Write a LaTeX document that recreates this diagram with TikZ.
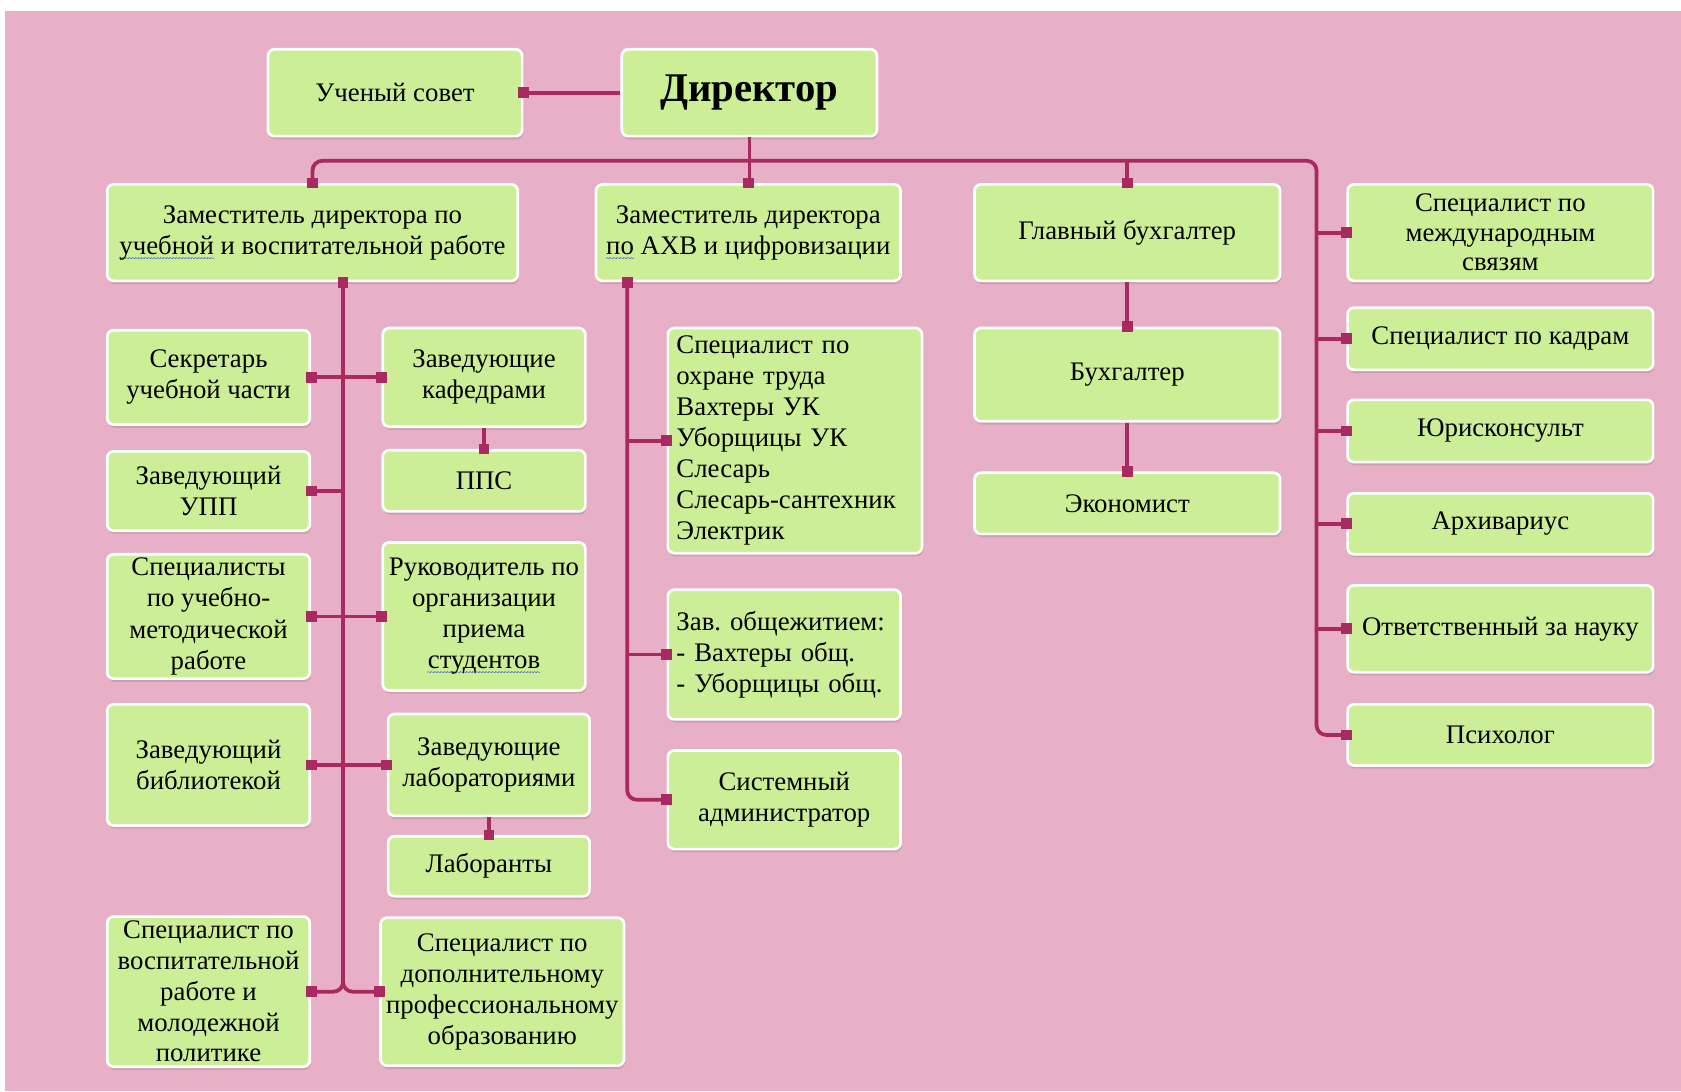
\documentclass[tikz,border=0pt]{standalone}
\usepackage{fontspec}
\setmainfont{Liberation Serif}
\usetikzlibrary{shadows}
\definecolor{bgpink}{RGB}{232,176,199}
\definecolor{boxgreen}{RGB}{204,238,150}
\definecolor{linemag}{RGB}{168,42,96}
\definecolor{spellblue}{RGB}{40,60,230}
\newcommand\spellwave[1]{\setbox0=\hbox{#1}\rlap{\raisebox{-6.5pt}[0pt][0pt]{\textcolor{spellblue}{\hbox to \wd0{\fontsize{8}{8}\selectfont\xleaders\hbox{\kern-0.7pt\textasciitilde\kern-0.7pt}\hfil}}}}\box0\relax}
\newcommand\mk[1]{\fill[linemag] ([xshift=-5pt,yshift=-5pt]#1) rectangle ([xshift=5pt,yshift=5pt]#1);}
\tikzset{
 box/.style={draw=white, line width=2.5pt, fill=boxgreen, rounded corners=6pt,
   inner sep=1pt, align=center, font=\fontsize{25}{29}\selectfont\frenchspacing,
   drop shadow={shadow xshift=1pt, shadow yshift=-3pt, opacity=0.22, fill=black!60}},
 lbox/.style={box, align=left, inner xsep=8pt},
 conn/.style={draw=linemag, line width=3.5pt},
}
\begin{document}
\begin{tikzpicture}[x=1pt,y=-1pt]
\useasboundingbox (0,0) rectangle (1568,1018);
\fill[white] (0,0) rectangle (1568,1018);
\fill[bgpink] (4.7,10) rectangle (1568,1018);

% top
\node[box, minimum width=237pt, minimum height=81pt] (uc) at (368.5,86.5) {Ученый совет};
\node[box, minimum width=238pt, minimum height=81pt, font=\fontsize{38}{44}\selectfont\bfseries] (dir) at (699,86.5) {Директор};

% second row
\node[box, minimum width=383pt, minimum height=90pt] (zu) at (291.5,217) {Заместитель директора по\\ \spellwave{учебной} и воспитательной работе};
\node[box, minimum width=284pt, minimum height=90pt] (zahv) at (698,217) {Заместитель директора\\ \spellwave{по} АХВ и цифровизации};
\node[box, minimum width=285pt, minimum height=90pt] (gb) at (1051.5,217) {Главный бухгалтер};
\node[box, minimum width=285pt, minimum height=90pt, font=\fontsize{25}{27.5}\selectfont] (smc) at (1399.5,217) {Специалист по\\ международным\\ связям};

% right column
\node[box, minimum width=285pt, minimum height=58pt] (sk) at (1399.5,316) {Специалист по кадрам};
\node[box, minimum width=285pt, minimum height=58pt] (yur) at (1399.5,402) {Юрисконсульт};
\node[box, minimum width=285pt, minimum height=57pt] (arch) at (1399.5,488.5) {Архивариус};
\node[box, minimum width=285pt, minimum height=81pt] (otv) at (1399.5,586.5) {Ответственный за науку};
\node[box, minimum width=285pt, minimum height=57pt] (psy) at (1399.5,685.5) {Психолог};

% accounting
\node[box, minimum width=285pt, minimum height=87pt] (buh) at (1051.5,349.5) {Бухгалтер};
\node[box, minimum width=285pt, minimum height=57pt] (eco) at (1051.5,469.5) {Экономист};

% AHV column
\node[lbox, minimum width=237pt, minimum height=210pt, text width=221pt] (sot) at (741.5,411) {Специалист по\\ охране труда\\ Вахтеры УК\\ Уборщицы УК\\ Слесарь\\ Слесарь-сантехник\\ Электрик};
\node[lbox, minimum width=217pt, minimum height=121pt, text width=201pt] (obsh) at (731.5,610.5) {Зав. общежитием:\\ - Вахтеры общ.\\ - Уборщицы общ.};
\node[box, minimum width=217pt, minimum height=92pt] (sys) at (731.5,746) {Системный\\ администратор};

% education column
\node[box, minimum width=189pt, minimum height=88pt] (sec) at (194.5,352) {Секретарь\\ учебной части};
\node[box, minimum width=189pt, minimum height=92pt] (kaf) at (451.5,352) {Заведующие\\ кафедрами};
\node[box, minimum width=189pt, minimum height=57pt] (pps) at (451.5,448.5) {ППС};
\node[box, minimum width=189pt, minimum height=74pt] (upp) at (194.5,458) {Заведующий\\ УПП};
\node[box, minimum width=189pt, minimum height=116pt] (sum) at (194.5,575) {Специалисты\\ по учебно-\\ методической\\ работе};
\node[box, minimum width=189pt, minimum height=138pt] (ruk) at (451.5,575) {Руководитель по\\ организации\\ приема\\ \spellwave{студентов}};
\node[box, minimum width=189pt, minimum height=113pt] (bib) at (194.5,713.5) {Заведующий\\ библиотекой};
\node[box, minimum width=188pt, minimum height=95pt] (lab) at (456,713.5) {Заведующие\\ лабораториями};
\node[box, minimum width=188pt, minimum height=56pt] (lbr) at (456,808) {Лаборанты};
\node[box, minimum width=189pt, minimum height=140pt, font=\fontsize{25}{28.7}\selectfont] (vos) at (194.5,925) {Специалист по\\ воспитательной\\ работе и\\ молодежной\\ политике};
\node[box, minimum width=227pt, minimum height=138pt] (dop) at (468.5,925) {Специалист по\\ дополнительному\\ профессиональному\\ образованию};

% coordinates
\coordinate (busR) at (1228,150);
\coordinate (zuT) at ([xshift=28.5pt]zu.south);
\coordinate (zaT) at ([xshift=-113pt]zahv.south);

% connectors
\draw[conn] (dir.west) -- (uc.east); \mk{uc.east}
\draw[conn] (dir.south) -- (dir.south |- zahv.north); \mk{zahv.north}
\draw[conn, rounded corners=9pt] (zu.north) |- (busR) |- (psy.west);
\mk{zu.north} \mk{psy.west}
\draw[conn] (gb.north |- busR) -- (gb.north); \mk{gb.north}
\foreach \n in {smc,sk,yur,arch,otv}{
  \draw[conn] (\n.west -| busR) -- (\n.west); \mk{\n.west}
}
\draw[conn] (gb.south) -- (buh.north); \mk{buh.north}
\draw[conn] (buh.south) -- (eco.north); \mk{eco.north}

% AHV trunk
\draw[conn, rounded corners=9pt] (zaT) |- (sys.west); \mk{zaT} \mk{sys.west}
\draw[conn] (sot.west -| zaT) -- (sot.west); \mk{sot.west}
\draw[conn] (obsh.west -| zaT) -- (obsh.west); \mk{obsh.west}

% education trunk
\draw[conn, rounded corners=9pt] (zuT) |- (vos.east); \mk{zuT} \mk{vos.east}
\draw[conn, rounded corners=9pt] (zuT) |- (dop.west); \mk{dop.west}
\draw[conn] (sec.east) -- (kaf.west); \mk{sec.east} \mk{kaf.west}
\draw[conn] (upp.east) -- (upp.east -| zuT); \mk{upp.east}
\draw[conn] (sum.east) -- (ruk.west); \mk{sum.east} \mk{ruk.west}
\draw[conn] (bib.east) -- (lab.west); \mk{bib.east} \mk{lab.west}
\draw[conn] (kaf.south) -- (pps.north); \mk{pps.north}
\draw[conn] (lab.south) -- (lbr.north); \mk{lbr.north}
\end{tikzpicture}
\end{document}
